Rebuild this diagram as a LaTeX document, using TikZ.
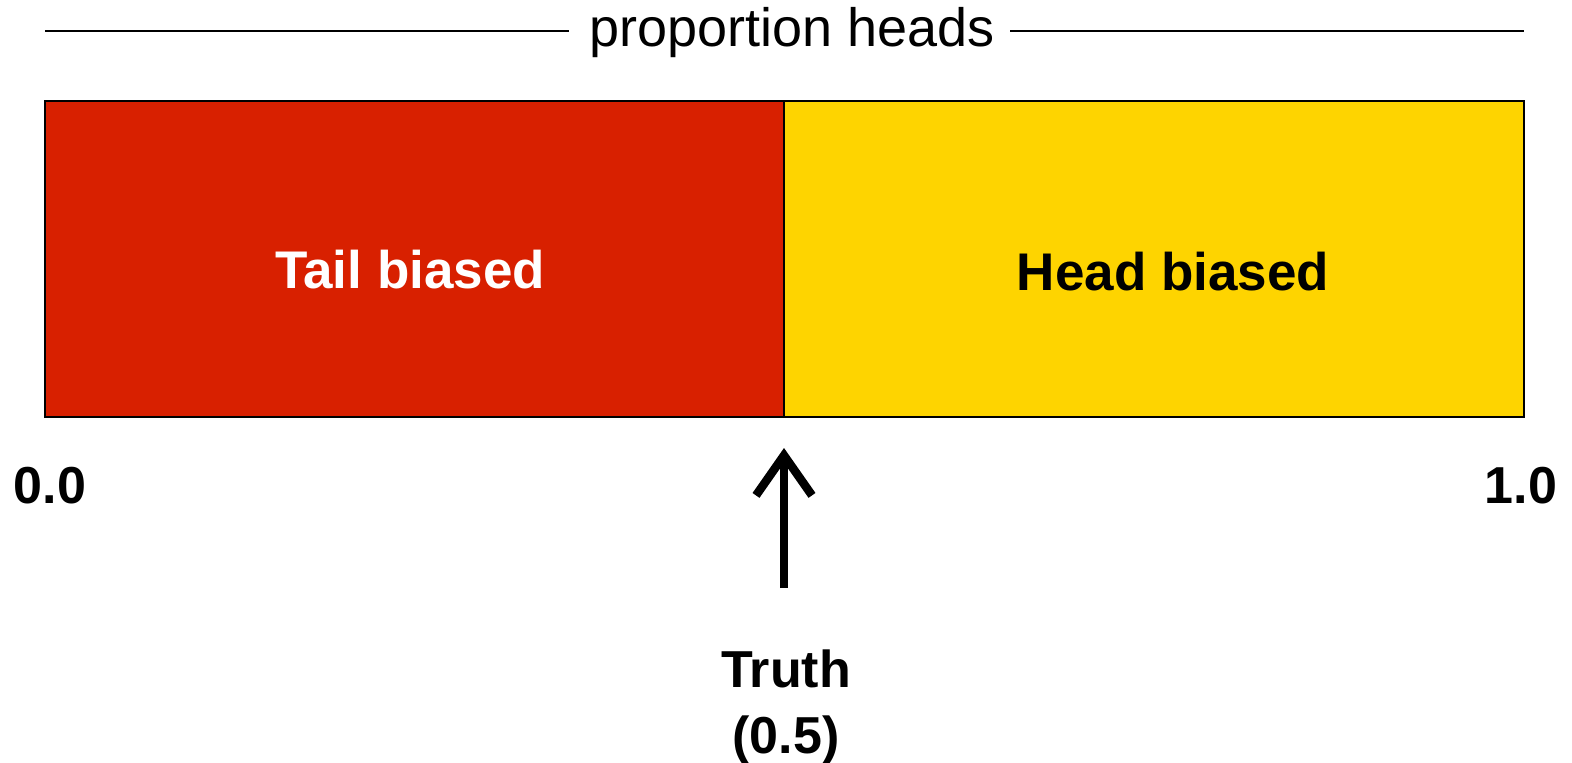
\documentclass[tikz,border=0pt]{standalone}
\usepackage{fontspec}
\setmainfont{Liberation Sans}
\usetikzlibrary{arrows.meta}
\definecolor{tailred}{RGB}{216,32,0}
\definecolor{headyellow}{RGB}{254,212,0}
\tikzset{
  half/.style={draw=black, line width=2.5pt, inner sep=0pt, outer sep=0pt, anchor=north west},
  boldlabel/.style={font=\fontsize{53}{60}\selectfont\bfseries, inner sep=0pt},
  ticklabel/.style={font=\fontsize{52}{62}\selectfont\bfseries, inner sep=0pt},
  rule/.style={line width=2pt, black},
}
\begin{document}
\begin{tikzpicture}[x=1pt,y=-1pt]
\useasboundingbox (0,0) rectangle (1572,763);
% title
\node[font=\fontsize{54}{60}\selectfont, inner sep=0pt] (title) at (792,33) {proportion heads};
\coordinate (tl) at (45,31);
\coordinate (tlend) at (569,31);
\coordinate (trstart) at (1010,31);
\coordinate (tr) at (1524,31);
\draw[rule] (tl) -- (tlend);
\draw[rule] (trstart) -- (tr);
% box halves
\node[half, fill=tailred, minimum width=739pt, minimum height=316pt] (tail) at (45,101) {};
\node[half, fill=headyellow, minimum width=740pt, minimum height=316pt] (head) at (784,101) {};
\node[boldlabel, text=white] (taillab) at (410,270) {Tail biased};
\node[boldlabel, text=black] (headlab) at (1173,272) {Head biased};
% axis labels
\node[ticklabel] (zero) at (50,486) {0.0};
\node[ticklabel] (one) at (1521,486) {1.0};
% truth
\node[align=center, inner sep=0pt, font=\fontsize{52}{66}\selectfont\bfseries] (truth) at (786,707) {Truth\\(0.5)};
\coordinate (arrowstart) at (784,588);
\coordinate (arrowtip) at (784,448);
\draw[line width=8.5pt, -{Straight Barb[length=40pt,width=56pt,line width=8.5pt]}] (arrowstart) -- (arrowtip);
\end{tikzpicture}
\end{document}
